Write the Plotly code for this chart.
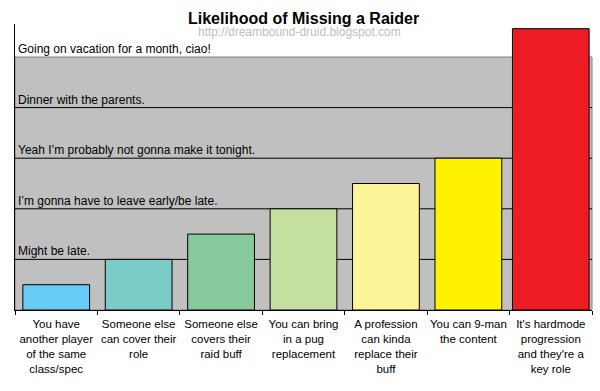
import plotly.graph_objects as go

categories = [
    "You have<br>another player<br>of the same<br>class/spec",
    "Someone else<br>can cover their<br>role",
    "Someone else<br>covers their<br>raid buff",
    "You can bring<br>in a pug<br>replacement",
    "A profession<br>can kinda<br>replace their<br>buff",
    "You can 9-man<br>the content",
    "It's hardmode<br>progression<br>and they're a<br>key role",
]
values = [0.5, 1.0, 1.5, 2.0, 2.5, 3.0, 5.56]
bar_colors = ["#66CCF5", "#7BCBC8", "#86C99A", "#C5DF9E", "#FEF598", "#FFF200", "#ED1C24"]
bar_widths = [0.81, 0.81, 0.81, 0.81, 0.81, 0.81, 0.93]

level_labels = [
    "Might be late.",
    "I\u2019m gonna have to leave early/be late.",
    "Yeah I\u2019m probably not gonna make it tonight.",
    "Dinner with the parents.",
    "Going on vacation for a month, ciao!",
]
level_values = [1, 2, 3, 4, 5]

FONT = "Liberation Sans, Arial, sans-serif"

fig = go.Figure()
fig.add_trace(go.Bar(
    x=categories, y=values, width=bar_widths,
    marker=dict(color=bar_colors, line=dict(color="black", width=1)),
    hoverinfo="skip",
))

shapes = [dict(type="rect", xref="paper", yref="y", x0=0, x1=1, y0=0, y1=5,
               fillcolor="#C0C0C0", line=dict(color="#808080", width=1), layer="below")]
for v in level_values[:-1]:
    shapes.append(dict(type="line", xref="paper", yref="y", x0=0, x1=1, y0=v, y1=v,
                       line=dict(color="black", width=1), layer="below"))

annotations = []
for lab, v in zip(level_labels, level_values):
    annotations.append(dict(text=lab, xref="paper", yref="y", x=0, y=v, xanchor="left",
                            yanchor="bottom", xshift=1, yshift=-1, showarrow=False,
                            font=dict(family=FONT, size=12, color="black")))
annotations.append(dict(text="<b>Likelihood of Missing a Raider</b>", xref="paper", yref="paper",
                        x=0.5, y=1, xanchor="center", yanchor="middle", yshift=6, xshift=0,
                        showarrow=False, font=dict(family=FONT, size=16, color="black")))
annotations.append(dict(text="http://dreambound-druid.blogspot.com", xref="paper", yref="paper",
                        x=0.5, y=1, xanchor="center", yanchor="middle", yshift=-8, xshift=-4,
                        showarrow=False, font=dict(family=FONT, size=12, color="#C0C0C0")))

fig.update_layout(
    width=600, height=391,
    margin=dict(l=15, r=8, t=24, b=81),
    paper_bgcolor="white", plot_bgcolor="white",
    showlegend=False,
    shapes=shapes, annotations=annotations,
    bargap=0.19,
    xaxis=dict(type="category", range=[-0.5, 6.5], showline=True, linecolor="black", linewidth=1,
               ticks="outside", tickson="boundaries", ticklen=4, tickcolor="black",
               tickangle=0, automargin=False, ticklabelstandoff=3,
               showgrid=False, tickfont=dict(family=FONT, size=11.5, color="black")),
    yaxis=dict(range=[0, 5.652], showline=True, linecolor="black", linewidth=1, automargin=False,
               showgrid=False, showticklabels=False, ticks="", zeroline=False),
)
fig.write_html("out.html")
